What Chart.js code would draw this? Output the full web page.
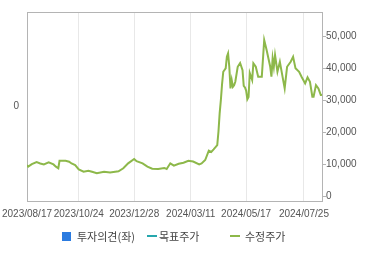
<!DOCTYPE html>
<html><head><meta charset="utf-8">
<script src="https://cdn.jsdelivr.net/npm/chart.js@4"></script>
<style>
html,body{margin:0;padding:0;background:#fff;}
#wrap{position:relative;width:370px;height:255px;overflow:hidden;}
canvas{position:absolute;left:0;top:0;}
.lg{position:absolute;top:229px;font:11px "Noto Sans CJK KR";color:#444;line-height:14px;white-space:nowrap;}
.mk{position:absolute;}
</style></head><body>
<div id="wrap">
<canvas id="c" width="370" height="255"></canvas>
<div class="mk" style="left:62px;top:232px;width:9px;height:9px;background:#2b7be0"></div>
<div class="lg" style="left:77px">투자의견(좌)</div>
<div class="mk" style="left:147px;top:235px;width:10px;height:2px;background:#26a7ad"></div>
<div class="lg" style="left:159px">목표주가</div>
<div class="mk" style="left:230px;top:235px;width:10px;height:2px;background:#8db84a"></div>
<div class="lg" style="left:245px">수정주가</div>
</div>
<script>
// trading-day index (from 2023/08/17) and adjusted price
const dayIndex = [0,1,4,8,11,14,18,22,24,26,27,32,35,37,40,43,47,51,54,58,64,69,76,80,84,89,91,96,100,104,109,114,116,119,122,126,130,134,138,143,145,148,151,153,155,158,159,160,161,162,163,165,166,167,168,169,170,171,172,173,175,177,179,180,181,182,183,184,185,187,188,190,192,195,197,199,202,203,204,205,206,208,210,212,214,216,219,221,223,226,228,231,233,235,237,238,240,242,244,245];
const price = [9800,9300,10100,10700,10300,10000,10650,10000,9300,8800,11150,11150,10850,10300,9800,8470,7730,8040,7700,7230,7730,7500,7850,8790,10340,11680,11000,10340,9300,8660,8570,8900,8570,10340,9600,10200,10530,11150,10900,10030,10300,11370,14270,13900,14700,16040,20190,25900,30060,35000,38880,39940,43550,44600,40430,33700,36300,34200,34700,35760,40430,41600,39400,34500,34000,33000,30300,31000,38500,36300,41500,40430,37320,37320,48750,45640,40430,37320,43050,40430,44080,38880,42000,37850,33700,40430,42000,43550,39940,38880,37320,35260,37130,35760,31090,31090,34730,33700,31620,31600];
const tickIndex = [0,43,89,136,182,230];
const tickLabels = ['2023/08/17','2023/10/24','2023/12/28','2024/03/11','2024/05/17','2024/07/25'];
const rightTicks = [0,10000,20000,30000,40000,50000];
const leftTicks = [0];

const boxPlugin = {
  id:'box',
  beforeDatasetsDraw(chart){
    const a = chart.chartArea, ctx = chart.ctx;
    ctx.save();
    ctx.strokeStyle = '#b4b4b4';
    ctx.lineWidth = 1;
    ctx.strokeRect(Math.round(a.left)+0.5, Math.round(a.top)+0.5, Math.round(a.right-a.left), Math.round(a.bottom-a.top));
    ctx.restore();
  }
};

new Chart(document.getElementById('c'), {
  type:'line',
  data:{datasets:[{
    label:'수정주가',
    data: dayIndex.map((d,i)=>({x:d,y:price[i]})),
    borderColor:'#8db84a', borderWidth:2, pointRadius:0, tension:0, yAxisID:'y1', fill:false
  }]},
  options:{
    responsive:false, animation:false, events:[],
    layout:{padding:{top:12,left:0,right:0,bottom:0}},
    plugins:{legend:{display:false},tooltip:{enabled:false}},
    scales:{
      x:{type:'linear',min:0,max:245,
        afterBuildTicks(s){s.ticks = tickIndex.map(v=>({value:v}));},
        afterFit(s){s.height = 54; s.paddingLeft = 0; s.paddingRight = 0;},
        grid:{color:'#e8e8e8',drawTicks:false},
        border:{display:false},
        ticks:{autoSkip:false,maxRotation:0,padding:7,color:'#555',font:{family:'Liberation Sans',size:10},
          callback(v){const k=tickIndex.indexOf(v);return k>=0?tickLabels[k]:'';}}
      },
      y:{type:'linear',position:'left',min:-1,max:1,
        afterBuildTicks(s){s.ticks = leftTicks.map(v=>({value:v}));},
        afterFit(s){s.width = 27; s.paddingTop = 0; s.paddingBottom = 0;},
        grid:{display:false,drawTicks:false},border:{display:false},
        ticks:{padding:8,color:'#555',font:{family:'Liberation Sans',size:10}}
      },
      y1:{type:'linear',position:'right',min:-1400,max:57500,
        afterBuildTicks(s){s.ticks = rightTicks.map(v=>({value:v}));},
        afterFit(s){s.width = 48; s.paddingTop = 0; s.paddingBottom = 0;},
        grid:{drawOnChartArea:false,color:'#b4b4b4',tickLength:4},
        border:{display:false},
        ticks:{padding:0,color:'#555',font:{family:'Liberation Sans',size:10},
          callback(v){return v.toLocaleString('en-US');}}
      }
    }
  },
  plugins:[boxPlugin]
});
</script>
</body></html>
